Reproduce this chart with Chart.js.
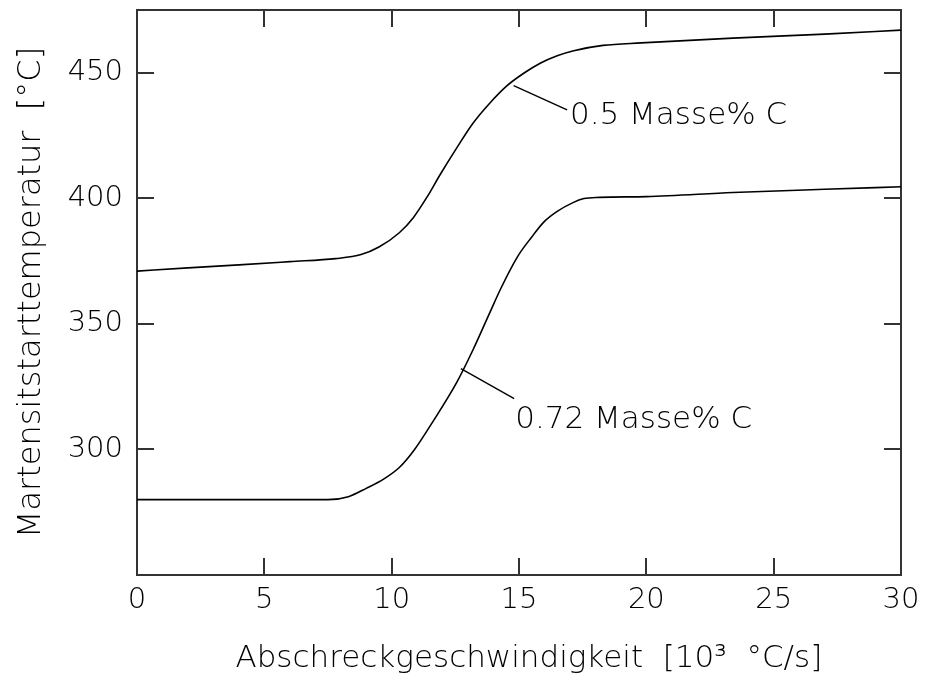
<!DOCTYPE html>
<html>
<head>
<meta charset="utf-8">
<script src="https://cdn.jsdelivr.net/npm/chart.js@4.4.0/dist/chart.umd.min.js"></script>
<style>
  html, body { margin: 0; padding: 0; background: #fff; }
  #wrap { width: 928px; height: 681px; }
</style>
</head>
<body>
<div id="wrap"><canvas id="msChart" width="928" height="681"></canvas></div>
<script>
// Abschreckgeschwindigkeit [10^3 °C/s]
const speed05 = [0, 2, 4, 6, 7.8, 8.8, 9.5, 10.3, 10.85, 11.4, 11.9, 12.55, 13.2, 13.85, 14.5, 15.2, 15.85, 16.5, 17.15, 18.3, 19.8, 23.4, 27, 30];
const temp05 = [371, 372.3, 373.5, 374.8, 376, 377.6, 380.6, 386.3, 392.3, 400.7, 409.4, 420, 430, 437.9, 444.6, 449.9, 453.9, 456.8, 458.8, 460.9, 461.9, 463.8, 465.4, 467];

const speed072 = [0, 4, 7.5, 8.3, 9.0, 9.7, 10.3, 10.9, 11.6, 12.55, 13.2, 13.85, 14.3, 14.95, 15.5, 16.0, 16.5, 17.1, 17.55, 18.15, 20, 23.4, 27, 30];
const temp072 = [280, 280, 280, 281.2, 284.5, 288.3, 292.8, 300, 310.8, 326.6, 339.8, 354.4, 364.4, 376.9, 384.6, 390.8, 394.8, 398.2, 399.9, 400.4, 400.7, 402.3, 403.6, 404.6];

const xTicks = [0, 5, 10, 15, 20, 25, 30];
const yTicks = [300, 350, 400, 450];

// Beschriftungen mit Hinweislinie
const labels = ['0.5 Masse% C', '0.72 Masse% C'];
const leaderX = [[14.79, 16.89], [12.72, 14.81]];
const leaderY = [[444.9, 435.2], [332.2, 320.2]];
const labelX = [17.0, 14.85];
const labelY = [433.0, 311.9];

const FONT = '"DejaVu Sans", sans-serif';
const AXIS = '#333';

const toPts = (xs, ys) => xs.map((x, i) => ({ x: x, y: ys[i] }));

const curve = (data) => ({
  data: data,
  borderColor: '#000',
  borderWidth: 1.6,
  pointRadius: 0,
  cubicInterpolationMode: 'monotone',
  fill: false,
});

const datasets = [
  curve(toPts(speed05, temp05)),
  curve(toPts(speed072, temp072)),
];
leaderX.forEach((lx, i) => {
  datasets.push({
    data: toPts(lx, leaderY[i]),
    borderColor: '#000',
    borderWidth: 1.4,
    pointRadius: 0,
    tension: 0,
  });
});

const textLabels = {
  id: 'textLabels',
  afterDatasetsDraw(chart) {
    const { ctx, scales } = chart;
    ctx.save();
    ctx.font = '200 31px ' + FONT;
    ctx.fillStyle = '#000';
    ctx.textAlign = 'left';
    ctx.textBaseline = 'middle';
    labels.forEach((t, i) => {
      ctx.fillText(t, scales.x.getPixelForValue(labelX[i]), scales.y.getPixelForValue(labelY[i]));
    });
    ctx.restore();
  }
};

const setTicks = (vals) => (scale) => { scale.ticks = vals.map(v => ({ value: v })); };

// feste Achsengroessen, ohne Zusatzabstand durch Beschriftungen
const fixSize = (w, h) => (s) => {
  if (w !== null) s.width = w;
  if (h !== null) s.height = h;
  s.paddingTop = 0;
  s.paddingBottom = 0;
  s.paddingLeft = 0;
  s.paddingRight = 0;
};

const gridOpts = {
  drawOnChartArea: false,
  drawTicks: true,
  tickLength: -17,
  color: AXIS,
  lineWidth: 2,
};
const borderOpts = { display: true, color: AXIS, width: 2 };

new Chart(document.getElementById('msChart'), {
  type: 'line',
  data: { datasets: datasets },
  plugins: [textLabels],
  options: {
    responsive: false,
    animation: false,
    devicePixelRatio: 1,
    layout: { padding: 0 },
    plugins: {
      legend: { display: false },
      tooltip: { enabled: false },
    },
    scales: {
      x: {
        type: 'linear',
        position: 'bottom',
        min: 0,
        max: 30,
        afterBuildTicks: setTicks(xTicks),
        afterFit: fixSize(null, 106),
        grid: gridOpts,
        border: borderOpts,
        ticks: {
          color: '#000',
          padding: 25,
          maxRotation: 0,
          font: { family: FONT, size: 29, weight: 200 },
        },
        title: {
          display: true,
          text: '  Abschreckgeschwindigkeit  [10³  °C/s]',
          color: '#000',
          font: { family: FONT, size: 31, weight: 200 },
          padding: { top: 0, bottom: 3 },
        },
      },
      y: {
        type: 'linear',
        position: 'left',
        min: 250,
        max: 475,
        afterBuildTicks: setTicks(yTicks),
        afterFit: fixSize(137, null),
        grid: gridOpts,
        border: borderOpts,
        ticks: {
          color: '#000',
          padding: 31,
          font: { family: FONT, size: 29, weight: 200 },
        },
        title: {
          display: true,
          text: 'Martensitstarttemperatur  [°C]',
          color: '#000',
          font: { family: FONT, size: 32, weight: 200 },
          padding: { top: 12, bottom: 0 },
        },
      },
      x2: {
        type: 'linear',
        position: 'top',
        display: true,
        min: 0,
        max: 30,
        afterBuildTicks: setTicks(xTicks),
        afterFit: fixSize(null, 10),
        grid: gridOpts,
        border: borderOpts,
        ticks: { display: false },
      },
      y2: {
        type: 'linear',
        position: 'right',
        display: true,
        min: 250,
        max: 475,
        afterBuildTicks: setTicks(yTicks),
        afterFit: fixSize(27, null),
        grid: gridOpts,
        border: borderOpts,
        ticks: { display: false },
      },
    },
  },
});
</script>
</body>
</html>
